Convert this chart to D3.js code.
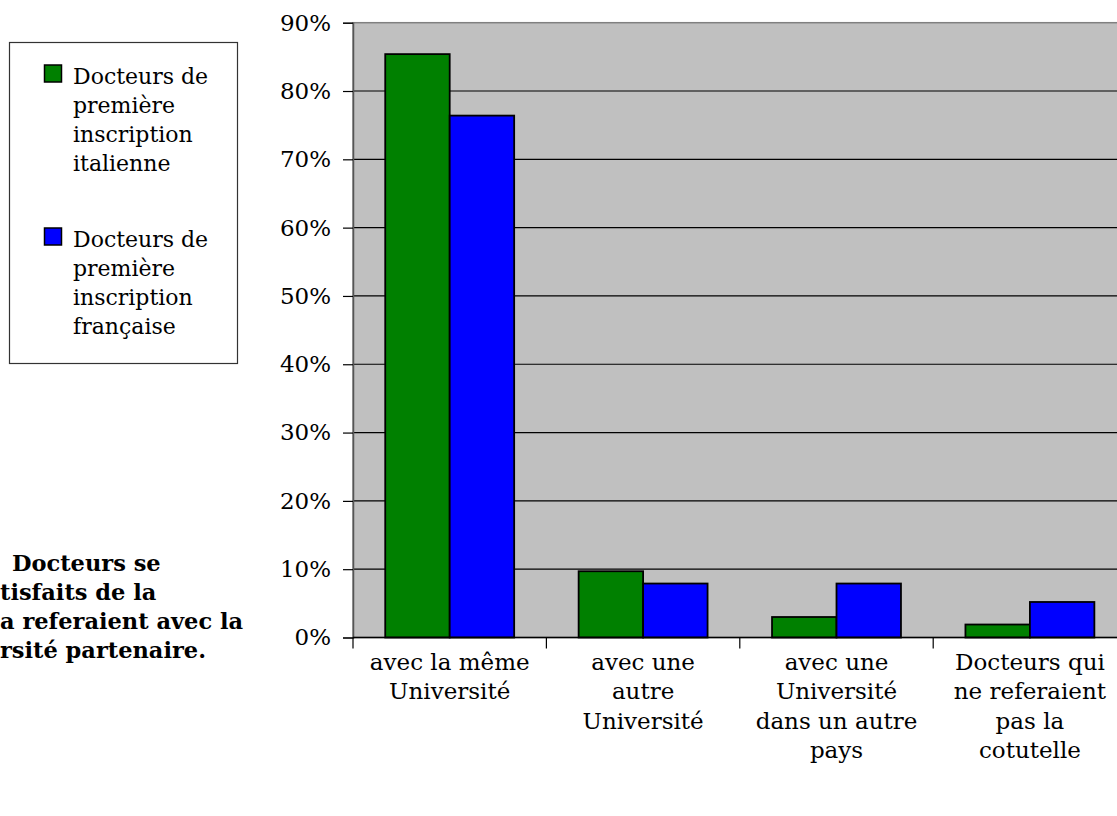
<!DOCTYPE html>
<html>
<head>
<meta charset="utf-8">
<script src="https://cdn.jsdelivr.net/npm/d3@7"></script>
<style>
  html, body { margin: 0; padding: 0; background: #fff; overflow: hidden; }
  svg { display: block; }
</style>
</head>
<body>
<svg id="chart" width="1117" height="816"></svg>
<script>
const categories = [
  ["avec la même", "Université"],
  ["avec une", "autre", "Université"],
  ["avec une", "Université", "dans un autre", "pays"],
  ["Docteurs qui", "ne referaient", "pas la", "cotutelle"]
];
const seriesNames = [
  ["Docteurs de", "première", "inscription", "italienne"],
  ["Docteurs de", "première", "inscription", "française"]
];
const italienne = [0.854, 0.097, 0.030, 0.019];
const francaise = [0.764, 0.079, 0.079, 0.052];
const yTicks = [0, 0.1, 0.2, 0.3, 0.4, 0.5, 0.6, 0.7, 0.8, 0.9];
// visible part of the title (its start lies beyond the left edge in the original)
const titleLines = [
  "Docteurs se",
  "tisfaits de la",
  "a referaient avec la",
  "rsité partenaire."
];
const colors = ["#008000", "#0000ff"];

(function () {
const svg = d3.select("#chart");
const FONT = "'DejaVu Serif', serif";

const pL = 353, pR = 353 + 4 * 193.4, pT = 22.7, pB = 637.5;
const catKeys = categories.map((c, i) => i);
const x0 = d3.scaleBand().domain(catKeys).range([pL, pR])
  .paddingInner(1/3).paddingOuter(1/6);
const x1 = d3.scaleBand().domain([0, 1]).range([0, x0.bandwidth()]);
const y = d3.scaleLinear().domain([0, 0.9]).range([pB, pT]);

// plot background
svg.append("rect").attr("x", pL).attr("y", pT)
  .attr("width", pR - pL).attr("height", pB - pT)
  .attr("fill", "#c0c0c0").attr("stroke", "#808080").attr("stroke-width", 1.5);

// gridlines
svg.append("g").selectAll("line").data(yTicks.filter(t => t > 0 && t < 0.9))
  .join("line")
  .attr("x1", pL).attr("x2", pR)
  .attr("y1", d => y(d)).attr("y2", d => y(d))
  .attr("stroke", "#000").attr("stroke-width", 1.2);

// bars
const series = [italienne, francaise];
const g = svg.append("g");
catKeys.forEach(ci => {
  series.forEach((s, si) => {
    g.append("rect")
      .attr("x", x0(ci) + x1(si))
      .attr("y", y(s[ci]))
      .attr("width", x1.bandwidth())
      .attr("height", y(0) - y(s[ci]))
      .attr("fill", colors[si])
      .attr("stroke", "#000").attr("stroke-width", 1.8);
  });
});

// y axis
const yAxis = d3.axisLeft(y).tickValues(yTicks).tickFormat(d3.format(".0%"))
  .tickSize(10).tickPadding(12);
const ya = svg.append("g").attr("transform", `translate(${pL},0)`).call(yAxis);
ya.select(".domain").attr("stroke", "#555").attr("stroke-width", 1.5);
ya.selectAll(".tick line").attr("stroke", "#000").attr("stroke-width", 1.2);
ya.selectAll(".tick text").attr("font-family", FONT).attr("font-size", 23)
  .attr("fill", "#000");

// x axis line and ticks
svg.append("line").attr("x1", pL).attr("x2", pR)
  .attr("y1", pB).attr("y2", pB)
  .attr("stroke", "#000").attr("stroke-width", 1.5);
const step = x0.step();
const boundaries = catKeys.map(ci => x0(ci) - x0.paddingOuter() * step)
  .concat([pR]);
svg.append("g").selectAll("line").data(boundaries).join("line")
  .attr("x1", d => d).attr("x2", d => d)
  .attr("y1", pB).attr("y2", pB + 11)
  .attr("stroke", "#000").attr("stroke-width", 1.2);

// category labels
const xl = svg.append("g");
categories.forEach((lines, ci) => {
  const t = xl.append("text")
    .attr("font-family", FONT).attr("font-size", 23)
    .attr("text-anchor", "middle").attr("fill", "#000");
  lines.forEach((ln, li) => {
    t.append("tspan")
      .attr("x", x0(ci) + x0.bandwidth() / 2)
      .attr("y", 670 + li * 29.3)
      .text(ln);
  });
});

// legend
svg.append("rect").attr("x", 9.5).attr("y", 42.5).attr("width", 228).attr("height", 321)
  .attr("fill", "#fff").attr("stroke", "#333").attr("stroke-width", 1.2);
seriesNames.forEach((lines, si) => {
  const base = 84 + si * 163;
  svg.append("rect").attr("x", 44.5).attr("y", base - 19)
    .attr("width", 17).attr("height", 17)
    .attr("fill", colors[si]).attr("stroke", "#000").attr("stroke-width", 1.5);
  const t = svg.append("text").attr("font-family", FONT).attr("font-size", 22)
    .attr("fill", "#000");
  lines.forEach((ln, li) => {
    t.append("tspan").attr("x", 73).attr("y", base + li * 29).text(ln);
  });
});

// title fragment at the left
const starts = [12, 0, 0, 0];
const tt = svg.append("text").attr("font-family", FONT).attr("font-size", 22.5)
  .attr("font-weight", "bold").attr("fill", "#000");
titleLines.forEach((ln, i) => {
  tt.append("tspan").attr("x", starts[i]).attr("y", 571 + i * 29).text(ln);
});
})();
</script>
</body>
</html>
